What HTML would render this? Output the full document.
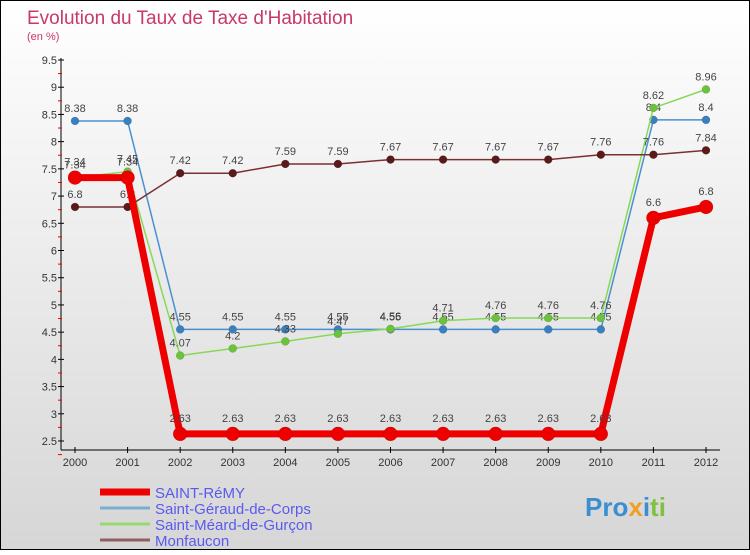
<!DOCTYPE html>
<html><head><meta charset="utf-8"><style>
body{margin:0;width:750px;height:550px;overflow:hidden;font-family:"Liberation Sans",sans-serif}
svg text{font-family:"Liberation Sans",sans-serif}
</style></head><body>
<svg id="c" width="750" height="550" xmlns="http://www.w3.org/2000/svg">
<defs><linearGradient id="bg" x1="0" y1="0" x2="0" y2="1"><stop offset="0" stop-color="#ffffff"/><stop offset="1" stop-color="#d6d6d6"/></linearGradient></defs>
<rect x="0.5" y="0.5" width="749" height="549" fill="url(#bg)" stroke="#000"/>
<text x="27" y="24" font-size="19" fill="#c8386a">Evolution du Taux de Taxe d'Habitation</text>
<text x="27" y="40" font-size="11" fill="#c8386a">(en %)</text>
<g id="axes"></g><g id="series"></g><g id="legend"></g>
<text x="585" y="516" font-size="26" font-weight="bold" fill="#3a8fd0">Pro<tspan fill="#f0a020">x</tspan><tspan fill="#3a8fd0">i</tspan><tspan fill="#7fc241">ti</tspan></text>
</svg>
<script>
const years=[2000,2001,2002,2003,2004,2005,2006,2007,2008,2009,2010,2011,2012];
const yTicks=[2.5,3,3.5,4,4.5,5,5.5,6,6.5,7,7.5,8,8.5,9,9.5];
const names=["SAINT-RéMY","Saint-Géraud-de-Corps","Saint-Méard-de-Gurçon","Monfaucon"];
const remy=[7.34,7.34,2.63,2.63,2.63,2.63,2.63,2.63,2.63,2.63,2.63,6.6,6.8];
const geraud=[8.38,8.38,4.55,4.55,4.55,4.55,4.55,4.55,4.55,4.55,4.55,8.4,8.4];
const meard=[7.34,7.45,4.07,4.2,4.33,4.47,4.56,4.71,4.76,4.76,4.76,8.62,8.96];
const monf=[6.8,6.8,7.42,7.42,7.59,7.59,7.67,7.67,7.67,7.67,7.76,7.76,7.84];
const NS="http://www.w3.org/2000/svg";
function X(i){return 75+i*(706-75)/(years.length-1);}
function Y(v){return 441-(v-2.5)*(441-60)/7;}
function mk(t,a,p){const e=document.createElementNS(NS,t);for(const k in a)e.setAttribute(k,a[k]);p.appendChild(e);return e;}
const ax=document.getElementById('axes');
let l=mk('line',{x1:61,y1:58,x2:61,y2:450,stroke:'#000'},ax);


l=mk('line',{x1:61,y1:450,x2:720,y2:450,stroke:'#000'},ax);


yTicks.forEach(v=>{const y=Y(v);
 mk('line',{x1:58,y1:y,x2:64,y2:y,stroke:'#000'},ax);
 mk('line',{x1:58,y1:y+13.6,x2:62,y2:y+13.6,stroke:'#e00'},ax);
 const t=mk('text',{x:57,y:y+4,'font-size':11,'text-anchor':'end',fill:'#333'},ax);t.textContent=v;
 
 });
years.forEach((yr,i)=>{const x=X(i);
 mk('line',{x1:x,y1:447,x2:x,y2:453,stroke:'#000'},ax);
 const t=mk('text',{x:x,y:466,'font-size':11,'text-anchor':'middle',fill:'#333'},ax);t.textContent=yr;
 
 });
const sg=document.getElementById('series');
const defs=[[geraud,'#4a90d0','#3a80c0',1.5,4,'saint-geraud'],[meard,'#88d858','#6cc23c',1.5,4,'saint-meard'],[monf,'#7a3030','#5a1a1a',1.5,4,'monfaucon'],[remy,'#ee0000','#ee0000',7,7,'saint-remy']];
defs.forEach(([d,lc,pc,w,r,n])=>{const g=mk('g',{},sg);
 
 
 const p=mk('polyline',{points:d.map((v,i)=>X(i)+','+Y(v)).join(' '),fill:'none',stroke:lc,'stroke-width':w,'stroke-linejoin':'round'},g);
 
 
 d.forEach((v,i)=>{const c=mk('circle',{cx:X(i),cy:Y(v),r:r,fill:pc,stroke:'rgba(0,0,0,0.2)','stroke-width':0.5},g);
  
  
  const t=mk('text',{x:X(i),y:Y(v)-(r+5),'font-size':11,'text-anchor':'middle',fill:'#444'},g);t.textContent=v;
  
  });});
const lg=document.getElementById('legend');
const lcol=['#ee0000','#7aaed0','#98d870','#906060'],lw=[7,3,3,3];
names.forEach((nm,i)=>{const y=492+i*16;
 const g=mk('g',{},lg);
 
 
 mk('line',{x1:100,y1:y,x2:150,y2:y,stroke:lcol[i],'stroke-width':lw[i]},g);
 const t=mk('text',{x:155,y:y+6,'font-size':15,fill:'#5a5aee'},g);t.textContent=nm;});
</script>
</body></html>
